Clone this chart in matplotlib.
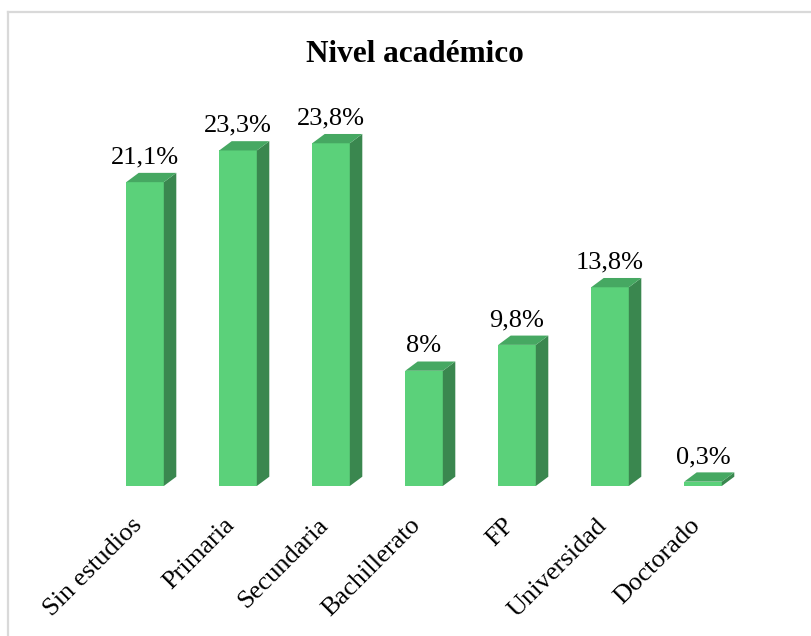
import matplotlib.pyplot as plt
from matplotlib.patches import Polygon
from matplotlib.lines import Line2D

categories = ['Sin estudios', 'Primaria', 'Secundaria', 'Bachillerato', 'FP', 'Universidad', 'Doctorado']
values = [21.1, 23.3, 23.8, 8, 9.8, 13.8, 0.3]
labels = ['21,1%', '23,3%', '23,8%', '8%', '9,8%', '13,8%', '0,3%']

plt.rcParams['font.family'] = ['Liberation Serif', 'DejaVu Serif']

W, H = 812, 636
fig = plt.figure(figsize=(W / 100, H / 100), dpi=100)

# axes placed so bar centers land at 145 + 93*i px and baseline at y=486
px_per_unit_x = 93.0
px_per_pct = 14.4
x_left = 145 - px_per_unit_x * 1.0
ax_w = px_per_unit_x * 8.0
base = H - 486
ax_h = px_per_pct * 30
ax = fig.add_axes([x_left / W, base / H, ax_w / W, ax_h / H])
ax.set_xlim(-1, 7)
ax.set_ylim(0, 30)
ax.axis('off')

front = '#5BD17A'
side = '#3A874F'
top = '#46A862'

bw = 37.6 / px_per_unit_x
dx = 12.5 / px_per_unit_x
dy = 9.3 / px_per_pct

xs = list(range(len(categories)))
ax.bar(xs, values, width=bw, color=front, edgecolor='none', zorder=2)
for x, v, lab in zip(xs, values, labels):
    x0, x1 = x - bw / 2, x + bw / 2
    ax.add_patch(Polygon([(x1, 0), (x1 + dx, dy), (x1 + dx, v + dy), (x1, v)],
                         closed=True, facecolor=side, edgecolor='none', zorder=2))
    ax.add_patch(Polygon([(x0, v), (x0 + dx, v + dy), (x1 + dx, v + dy), (x1, v)],
                         closed=True, facecolor=top, edgecolor='none', zorder=2))
    ax.text(x, v + dy + 0.3, lab, ha='center', va='bottom', fontsize=19, color='black')

for x, cat in zip(xs, categories):
    ax.text(x - 0.07, -2.5, cat, rotation=45, rotation_mode='anchor', ha='right', va='center',
            fontsize=19, color='black')

fig.text(415 / W, 1 - 54 / H, 'Nivel académico', ha='center', va='center', fontsize=22.5,
         fontweight='bold', color='black')

# light gray frame (left and top edges visible)
fig.add_artist(Line2D([8.5 / W, 8.5 / W], [0, 1 - 11.5 / H], color='#D9D9D9', lw=1.6))
fig.add_artist(Line2D([8 / W, 1], [1 - 11.5 / H, 1 - 11.5 / H], color='#D9D9D9', lw=1.6))

fig.savefig('out.png', dpi=100)
